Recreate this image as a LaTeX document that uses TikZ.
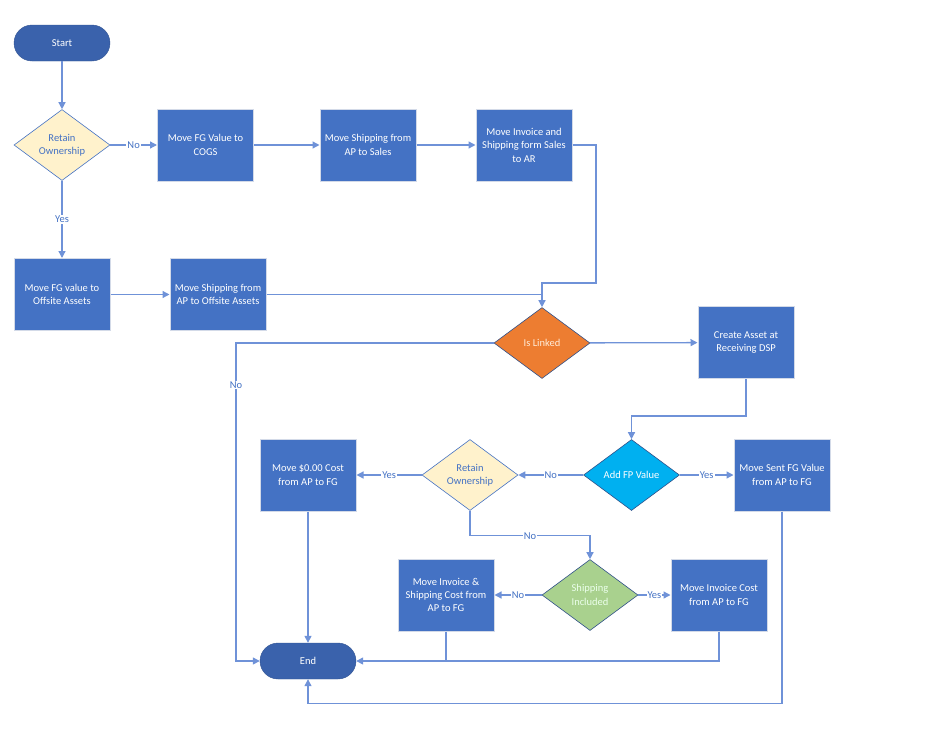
\documentclass[tikz,border=0pt]{standalone}
\usepackage{fontspec}
\setmainfont{Carlito}
\usetikzlibrary{positioning}
\usetikzlibrary{shapes.geometric,arrows.meta}
\definecolor{boxblue}{HTML}{4472C4}
\definecolor{termblue}{HTML}{3A62AC}
\definecolor{lineblue}{HTML}{6F92D8}
\definecolor{edgegray}{HTML}{D3DAE8}
\definecolor{askorange}{HTML}{ED7D31}
\definecolor{askcyan}{HTML}{00B0F0}
\definecolor{askgreen}{HTML}{A9D18E}
\definecolor{askyellow}{HTML}{FFF2CC}
\tikzset{>={Triangle[length=7pt,width=7pt]},
  txt/.style = {font=\fontsize{10.5}{13.4}\selectfont},
  term/.style = {rectangle,rounded corners=18pt,fill=termblue,draw=termblue!85!black,
    minimum width=96pt,minimum height=36pt,text=white,txt},
  proc/.style = {rectangle,fill=boxblue,draw=edgegray,line width=1pt,
    minimum width=96pt,minimum height=72pt,text=white,align=center,inner sep=1pt,txt},
  ask/.style = {diamond,minimum width=96pt,minimum height=71pt,inner sep=0pt,
    align=center,draw=boxblue!70!black,line width=0.6pt,txt},
  flow/.style = {draw=lineblue,line width=1.3pt},
  lbl/.style = {fill=white,text=boxblue,inner sep=1pt,txt}
}
\begin{document}
\begin{tikzpicture}[x=1pt,y=-1pt]
  \useasboundingbox (0,0) rectangle (935,755);

  % upper part
  \node[term] (start) at (62,43) {Start};
  \node[ask,fill=askyellow,text=boxblue,draw=boxblue] (ro1) at (62,145) {Retain\\Ownership};
  \node[proc] (cogs) at (205.5,145) {Move FG Value to\\COGS};
  \node[proc] (apsales) at (368,145) {Move Shipping from\\AP to Sales};
  \node[proc] (invar) at (524,145) {Move Invoice and\\Shipping form Sales\\to AR};
  \node[proc] (offfg) at (62,294.5) {Move FG value to\\Offsite Assets};
  \node[proc] (offship) at (218,294.5) {Move Shipping from\\AP to Offsite Assets};

  % middle part
  \node[ask,fill=askorange,text=orange!15] (linked) at (542,343) {Is Linked};
  \node[proc] (asset) at (746,342.5) {Create Asset at\\Receiving DSP};
  \node[ask,fill=askcyan,text=white] (addfp) at (631.5,475) {Add FP Value};
  \node[proc] (sent) at (782,475) {Move Sent FG Value\\from AP to FG};
  \node[ask,fill=askyellow,text=boxblue,draw=boxblue] (ro2) at (470,475) {Retain\\Ownership};
  \node[proc] (zero) at (308,475) {Move \$0.00 Cost\\from AP to FG};

  % lower part
  \node[ask,fill=askgreen,text=green!8] (ship) at (590,595) {Shipping\\Included};
  \node[proc] (invship) at (446,595) {Move Invoice \&\\Shipping Cost from\\AP to FG};
  \node[proc] (invcost) at (719,595) {Move Invoice Cost\\from AP to FG};
  \node[term] (endnode) at (308,661) {End};

  \coordinate (bendA) at (596,283);
  \coordinate (nocol) at (236,661);

  \draw[flow,->] (start) -- (ro1);
  \draw[flow,->] (ro1) -- node[lbl]{No} (cogs);
  \draw[flow,->] (ro1) -- node[lbl]{Yes} (offfg);
  \draw[flow,->] (cogs) -- (apsales);
  \draw[flow,->] (apsales) -- (invar);
  \draw[flow,->] (offfg) -- (offship);
  \draw[flow,->] (invar.east) -| (bendA) -| (linked.north);
  \draw[flow] (offship.east) -- (offship.east -| linked.north);
  \draw[flow,->] (linked) -- (asset);
  \draw[flow,->] (linked.west) -| node[lbl,pos=0.566]{No} (nocol) -- (endnode.west);
  \draw[flow,->] (asset.south) -- ++(0,37) -| (addfp.north);
  \draw[flow,->] (addfp) -- node[lbl]{Yes} (sent);
  \draw[flow,->] (addfp) -- node[lbl]{No} (ro2);
  \draw[flow,->] (ro2) -- node[lbl]{Yes} (zero);
  \draw[flow,->] (ro2.south) -- ++(0,25) -| node[lbl,pos=0.25]{No} (ship.north);
  \draw[flow,->] (ship) -- node[lbl]{No} (invship);
  \draw[flow,->] (ship) -- node[lbl]{Yes} (invcost);
  \draw[flow,->] (zero) -- (endnode);
  \draw[flow,->] (invship.south) |- (endnode.east);
  \draw[flow] (invcost.south) |- (invship.south |- endnode.east);
  \draw[flow,->] (sent.south) -- ++(0,192) -| (endnode.south);
\end{tikzpicture}
\end{document}
